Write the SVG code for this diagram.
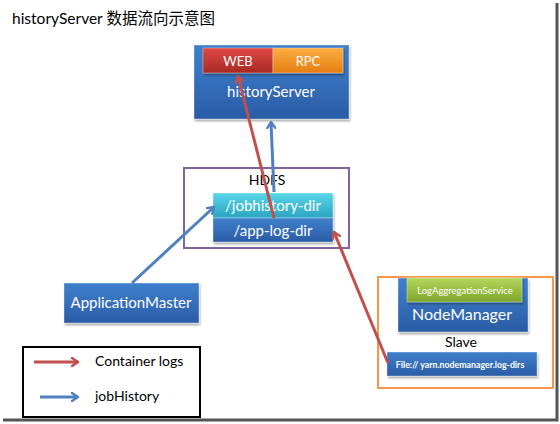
<svg xmlns="http://www.w3.org/2000/svg" width="560" height="424" viewBox="0 0 560 424">
<style>
text{font-family:Lato,"Noto Sans","Noto Sans CJK SC",sans-serif}
.w{fill:#fff;text-anchor:middle}
.k{fill:#000}
.red{stroke:#C0504D;stroke-width:3;fill:none}
.blue{stroke:#4F81BD;stroke-width:3;fill:none}
.box{stroke:#fff;stroke-opacity:.35;stroke-width:1}
</style>
<defs>
<linearGradient id="gBlue" x1="0" y1="0" x2="0" y2="1"><stop offset="0" stop-color="#3F80CC"/><stop offset="1" stop-color="#2A5CA6"/></linearGradient>
<linearGradient id="gRed" x1="0" y1="0" x2="0" y2="1"><stop offset="0" stop-color="#E04A44"/><stop offset="1" stop-color="#A82824"/></linearGradient>
<linearGradient id="gOr" x1="0" y1="0" x2="0" y2="1"><stop offset="0" stop-color="#FCAE44"/><stop offset="1" stop-color="#E67E10"/></linearGradient>
<linearGradient id="gCy" x1="0" y1="0" x2="0" y2="1"><stop offset="0" stop-color="#5AD6EA"/><stop offset="1" stop-color="#2AA4C0"/></linearGradient>
<linearGradient id="gGr" x1="0" y1="0" x2="0" y2="1"><stop offset="0" stop-color="#B4D85C"/><stop offset="1" stop-color="#7EA42A"/></linearGradient>
<filter id="sh" x="-10%" y="-10%" width="130%" height="140%"><feDropShadow dx="1" dy="2" stdDeviation="1.2" flood-color="#000" flood-opacity=".35"/></filter>
<marker id="aR" markerWidth="10" markerHeight="10" refX="7" refY="5" orient="auto" markerUnits="userSpaceOnUse"><path d="M1,1 L7,5 L1,9" fill="none" stroke="#C0504D" stroke-width="2.4" stroke-linecap="round" stroke-linejoin="round"/></marker>
<marker id="aB" markerWidth="10" markerHeight="10" refX="7" refY="5" orient="auto" markerUnits="userSpaceOnUse"><path d="M1,1 L7,5 L1,9" fill="none" stroke="#4F81BD" stroke-width="2.4" stroke-linecap="round" stroke-linejoin="round"/></marker>
</defs>
<rect width="560" height="424" fill="#fff"/>
<g id="frame"><path d="M557,3 V420 H3" fill="none" stroke="#555" stroke-width="3"/></g>
<text x="12" y="24" class="k" font-size="15.5">historyServer 数据流向示意图</text>

<g id="historyServer">
<rect x="194" y="45" width="155" height="74" fill="url(#gBlue)" filter="url(#sh)" class="box"/>
<text x="271" y="97" class="w" font-size="15">historyServer</text>
</g>
<g id="WEB">
<rect x="203" y="48" width="70" height="25" fill="url(#gRed)" filter="url(#sh)" class="box"/>
<text x="238" y="66" class="w" font-size="13">WEB</text>
</g>
<g id="RPC">
<rect x="273" y="48" width="70" height="25" fill="url(#gOr)" filter="url(#sh)" class="box"/>
<text x="308" y="66" class="w" font-size="13">RPC</text>
</g>

<g id="HDFS">
<rect x="184" y="168" width="165" height="80" fill="none" stroke="#8064A2" stroke-width="2"/>
<text x="267" y="185" class="k" font-size="14" text-anchor="middle">HDFS</text>
</g>
<g id="jobhistory-dir">
<rect x="213" y="193" width="120" height="25" fill="url(#gCy)" filter="url(#sh)" class="box"/>
<text x="273" y="211" class="w" font-size="15">/jobhistory-dir</text>
</g>
<g id="app-log-dir">
<rect x="213" y="218" width="120" height="24" fill="url(#gBlue)" filter="url(#sh)" class="box"/>
<text x="273" y="236" class="w" font-size="15">/app-log-dir</text>
</g>

<g id="ApplicationMaster">
<rect x="64" y="283" width="135" height="40" fill="url(#gBlue)" filter="url(#sh)" class="box"/>
<text x="131" y="308" class="w" font-size="15">ApplicationMaster</text>
</g>

<g id="Slave">
<rect x="378" y="277" width="175" height="111" fill="none" stroke="#F79646" stroke-width="2"/>
<text x="461" y="347" class="k" font-size="14" text-anchor="middle">Slave</text>
</g>
<g id="NodeManager">
<rect x="398" y="278" width="130" height="54" fill="url(#gBlue)" filter="url(#sh)" class="box"/>
<text x="462" y="320" class="w" font-size="16">NodeManager</text>
</g>
<g id="LogAggregationService">
<rect x="407" y="278" width="115" height="24" fill="url(#gGr)" filter="url(#sh)" class="box"/>
<text x="465" y="294" class="w" font-size="9.5">LogAggregationService</text>
</g>
<g id="FileDirs">
<rect x="387" y="352" width="150" height="24" fill="url(#gBlue)" filter="url(#sh)" class="box"/>
<text x="460" y="368" class="w" font-size="8.8" font-weight="bold">File:// yarn.nodemanager.log-dirs</text>
</g>

<g id="connectors">
<line x1="274" y1="192" x2="271" y2="122" class="blue" marker-end="url(#aB)"/>
<line x1="274" y1="218" x2="238" y2="76" class="red" marker-end="url(#aR)"/>
<line x1="132" y1="283" x2="214" y2="207" class="blue" marker-end="url(#aB)"/>
<line x1="388" y1="363" x2="334" y2="232" class="red" marker-end="url(#aR)"/>
</g>

<g id="legend">
<rect x="23" y="347" width="177" height="70" fill="#fff" stroke="#000" stroke-width="2"/>
<line x1="34" y1="362" x2="78" y2="362" class="red" marker-end="url(#aR)"/>
<text x="95" y="366" class="k" font-size="14">Container logs</text>
<line x1="40" y1="397" x2="78" y2="397" class="blue" marker-end="url(#aB)"/>
<text x="95" y="401" class="k" font-size="14">jobHistory</text>
</g>
</svg>
